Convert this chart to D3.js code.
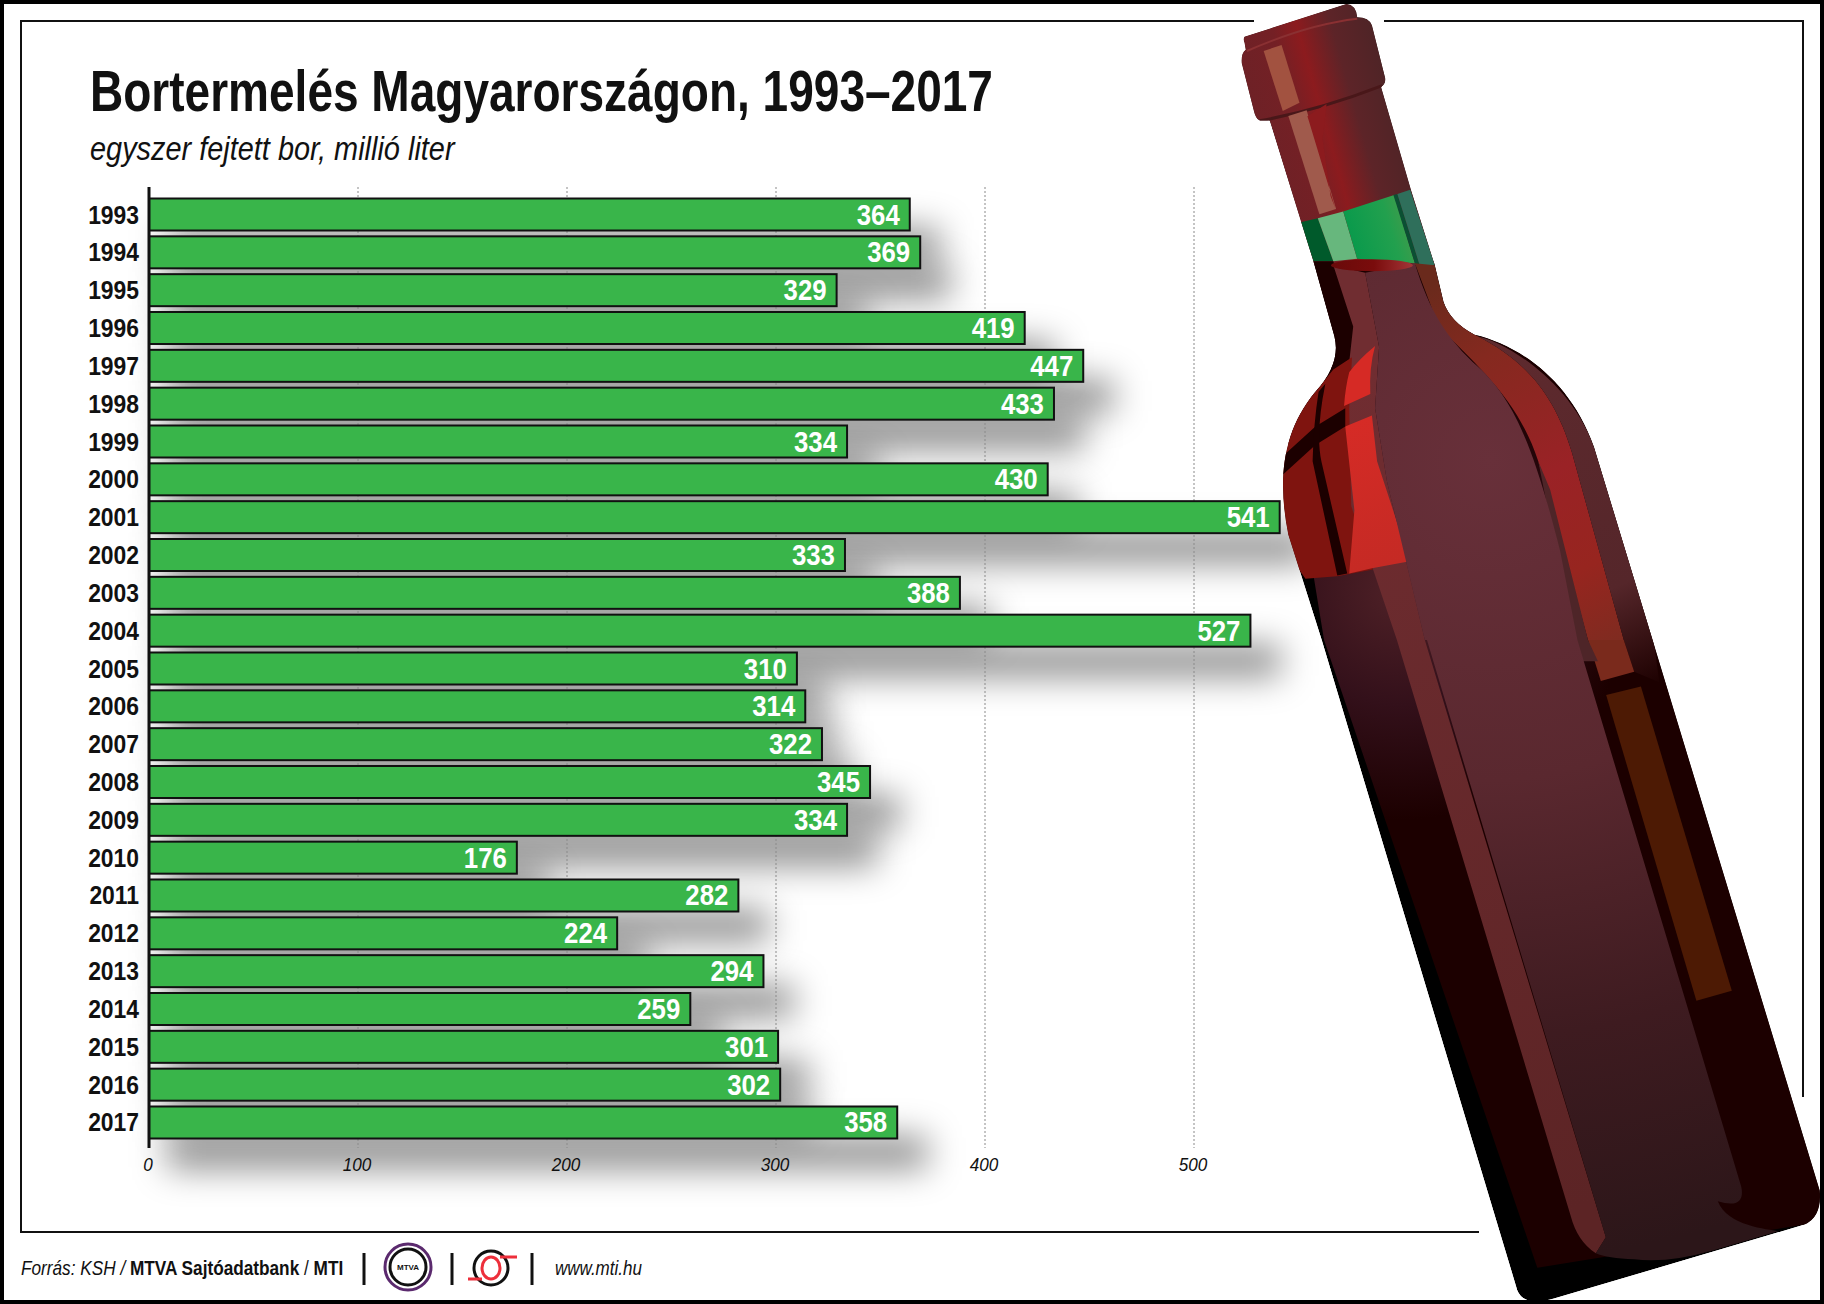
<!DOCTYPE html>
<html>
<head>
<meta charset="utf-8">
<script src="https://cdnjs.cloudflare.com/ajax/libs/d3/7.8.5/d3.min.js"></script>
<style>
  html, body { margin: 0; padding: 0; background: #fff; }
  svg { display: block; }
  text { font-family: "Liberation Sans", sans-serif; }
</style>
</head>
<body>
<svg id="chart" width="1824" height="1304"></svg>
<script>
const years = [1993, 1994, 1995, 1996, 1997, 1998, 1999, 2000, 2001, 2002, 2003, 2004, 2005,
               2006, 2007, 2008, 2009, 2010, 2011, 2012, 2013, 2014, 2015, 2016, 2017];
const production = [364, 369, 329, 419, 447, 433, 334, 430, 541, 333, 388, 527, 310,
                    314, 322, 345, 334, 176, 282, 224, 294, 259, 301, 302, 358];
const xTicks = [0, 100, 200, 300, 400, 500];

const svg = d3.select("#chart");
const defs = svg.append("defs");

// scales
const x = d3.scaleLinear().domain([0, 500]).range([149, 1194]);
const y = d3.scaleBand().domain(years).range([198.5, 1138.5]).paddingInner(0.154).paddingOuter(0);

// condensed look: the narrow font is not there, so squeeze the text
const squeeze = (px, py, sx) => `translate(${px},${py}) scale(${sx},1)`;

defs.append("filter").attr("id", "blur")
  .attr("filterUnits", "userSpaceOnUse")
  .attr("x", 100).attr("y", 120).attr("width", 1400).attr("height", 1150)
  .append("feGaussianBlur").attr("stdDeviation", 17);

// frame
const frame = svg.append("g").attr("fill", "none").attr("stroke", "#111").attr("stroke-width", 2);
frame.append("path").attr("d", "M1254,21H21V1232H1479");
frame.append("path").attr("d", "M1384,21H1803V1097");

// shadows
svg.append("g").selectAll("rect").data(production).join("rect")
  .attr("x", 167)
  .attr("y", (d, i) => y(years[i]) + 30)
  .attr("width", d => x(d) + 30 - 167)
  .attr("height", y.bandwidth())
  .attr("fill", "#000").attr("fill-opacity", 0.45)
  .attr("filter", "url(#blur)");

// grid
svg.append("g").selectAll("line").data(xTicks.slice(1)).join("line")
  .attr("x1", d => x(d)).attr("x2", d => x(d))
  .attr("y1", 187).attr("y2", 1148)
  .attr("stroke", "#8a8a8a").attr("stroke-width", 1).attr("stroke-dasharray", "2 2");

// bars
svg.append("g").selectAll("rect").data(production).join("rect")
  .attr("x", x(0))
  .attr("y", (d, i) => y(years[i]))
  .attr("width", d => x(d) - x(0))
  .attr("height", y.bandwidth())
  .attr("fill", "#39b54a").attr("stroke", "#111").attr("stroke-width", 2);

// value labels
svg.append("g").selectAll("text").data(production).join("text")
  .attr("transform", (d, i) => squeeze(x(d) - 10, y(years[i]) + y.bandwidth() / 2 + 10, 0.86))
  .attr("text-anchor", "end").attr("font-size", 30).attr("font-weight", 700)
  .attr("fill", "#fff")
  .text(d => d);

// year labels
svg.append("g").selectAll("text").data(years).join("text")
  .attr("transform", d => squeeze(139, y(d) + y.bandwidth() / 2 + 9, 0.88))
  .attr("text-anchor", "end").attr("font-size", 26).attr("font-weight", 700)
  .attr("fill", "#111")
  .text(d => d);

// axis line
svg.append("line").attr("x1", 149).attr("x2", 149).attr("y1", 187).attr("y2", 1148)
  .attr("stroke", "#111").attr("stroke-width", 3);

// tick labels
svg.append("g").selectAll("text").data(xTicks).join("text")
  .attr("transform", d => squeeze(x(d) - 1, 1170.5, 0.9))
  .attr("text-anchor", "middle").attr("font-size", 19).attr("font-style", "italic")
  .attr("fill", "#111")
  .text(d => d);

// titles
svg.append("text").attr("transform", squeeze(90, 111, 0.8075))
  .attr("font-size", 57).attr("font-weight", 700).attr("fill", "#111")
  .text("Bortermelés Magyarországon, 1993–2017");
svg.append("text").attr("transform", squeeze(90, 160, 0.85))
  .attr("font-size", 34).attr("font-style", "italic").attr("fill", "#111")
  .text("egyszer fejtett bor, millió liter");

// footer
const foot = svg.append("text").attr("transform", squeeze(21, 1275, 0.82)).attr("font-size", 21).attr("fill", "#111");
foot.append("tspan").attr("font-style", "italic").text("Forrás: KSH / ");
foot.append("tspan").attr("font-weight", 700).text("MTVA Sajtóadatbank");
foot.append("tspan").text(" / ");
foot.append("tspan").attr("font-weight", 700).text("MTI");
svg.append("text").attr("transform", squeeze(555, 1275, 0.81)).attr("font-size", 21).attr("font-style", "italic")
  .attr("fill", "#111").text("www.mti.hu");

svg.append("g").selectAll("line").data([364, 452, 532]).join("line")
  .attr("x1", d => d).attr("x2", d => d).attr("y1", 1253).attr("y2", 1285)
  .attr("stroke", "#111").attr("stroke-width", 3);

// MTVA logo
const mtva = svg.append("g").attr("transform", "translate(408,1267)").attr("fill", "none");
mtva.append("circle").attr("r", 23).attr("stroke", "#5b2a6e").attr("stroke-width", 3);
mtva.append("circle").attr("r", 18).attr("stroke", "#111").attr("stroke-width", 3);
mtva.append("text").attr("y", 3).attr("text-anchor", "middle").attr("font-size", 8)
  .attr("font-weight", 700).attr("fill", "#111").text("MTVA");

// MTI logo
const mti = svg.append("g").attr("transform", "translate(491,1268)").attr("fill", "none");
mti.append("circle").attr("r", 17).attr("stroke", "#111").attr("stroke-width", 3);
mti.append("ellipse").attr("rx", 9).attr("ry", 11).attr("stroke", "#ed2f3b").attr("stroke-width", 3);
mti.append("path").attr("d", "M9,-11H26M-9,11H-23").attr("stroke", "#ed2f3b").attr("stroke-width", 3);

// bottle: points
const a = (px, py) => [1200 + px / 2.513, py / 2.45];
const b = (px, py) => [1300 + px / 2.992, 640 + py / 2.361];

function grad(id, stops, x1, y1, x2, y2) {
  const g = defs.append("linearGradient").attr("id", id).attr("gradientUnits", "userSpaceOnUse")
    .attr("x1", x1).attr("y1", y1).attr("x2", x2).attr("y2", y2);
  stops.forEach(s => g.append("stop").attr("offset", s[0]).attr("stop-color", s[1]));
  return `url(#${id})`;
}

function radial(id, stops, cx, cy, r) {
  const g = defs.append("radialGradient").attr("id", id).attr("gradientUnits", "userSpaceOnUse")
    .attr("cx", cx).attr("cy", cy).attr("r", r);
  stops.forEach(s => g.append("stop").attr("offset", s[0]).attr("stop-color", s[1]));
  return `url(#${id})`;
}

const outline = `M${a(112, 90)}L${a(368, 10)}Q${a(392, 12)} ${a(395, 42)}Q${a(425, 42)} ${a(432, 62)}
  L${a(465, 190)}Q${a(468, 205)} ${a(455, 213)}L${a(530, 465)}L${a(590, 650)}L${a(612, 740)}
  Q${a(630, 790)} ${a(690, 820)}C${a(800, 845)} ${a(930, 930)} ${a(990, 1095)}
  L${b(1555, 1300)}Q${b(1562, 1362)} ${b(1510, 1380)}L${b(760, 1555)}Q${b(670, 1575)} ${b(650, 1535)}
  L${b(65, 0)}L${a(222, 1310)}C${a(195, 1180)} ${a(205, 1060)} ${a(290, 960)}
  Q${a(355, 890)} ${a(338, 825)}L${a(285, 640)}L${a(175, 295)}L${a(150, 295)}
  Q${a(140, 292)} ${a(135, 270)}L${a(105, 155)}Q${a(103, 130)} ${a(115, 122)}L${a(112, 105)}Q${a(108, 95)} ${a(112, 90)}Z`;

defs.append("clipPath").attr("id", "bottle-clip").append("path").attr("d", outline);
const inner = svg.append("g").attr("clip-path", "url(#bottle-clip)");

const shape = (d, fill) => inner.append("path").attr("d", d).attr("fill", fill);
const poly = (pts, fill) => shape("M" + pts.join("L") + "Z", fill);

// black rim, then the dark lower body
shape(outline, "#000");
poly([a(285, 640), a(590, 640), a(800, 800), a(1300, 1000), b(1600, 1300), b(1600, 1400), b(1510, 1380), b(710, 1482), b(72, 0), a(250, 1200), a(200, 1000)],
  radial("lowg", [[0, "#4f2127"], [0.5, "#33101a"], [1, "#1c0000"]], 1400, 590, 230));

// cap and neck
poly([a(90, 160), a(100, 90), a(380, 0), a(500, 50), a(600, 650), a(285, 650), a(175, 295), a(130, 295)],
  grad("neckg", [[0, "#6e2126"], [0.28, "#742025"], [0.45, "#8c1b1e"], [0.68, "#5d2428"], [1, "#4c2426"]], 1250, 100, 1390, 60));
inner.append("path").attr("d", `M${a(118, 125)}Q${a(270, 60)} ${a(395, 46)}`)
  .attr("fill", "none").attr("stroke", "#8a3032").attr("stroke-width", 2);
inner.append("path").attr("d", `M${a(150, 296)}Q${a(300, 270)} ${a(458, 210)}`)
  .attr("fill", "none").attr("stroke", "#491719").attr("stroke-width", 3);

// highlights on cap and neck
poly([a(160, 125), a(205, 110), a(250, 252), a(208, 272)], "#a25240");
poly([a(222, 284), a(268, 270), a(342, 512), a(300, 525)], "#a05a4c");
poly([a(270, 285), a(318, 255), a(308, 340), a(328, 480), a(340, 510)], "#8c1b1e");

// green band
poly([a(250, 545), a(296, 535), a(335, 640), a(285, 640)], "#005a2b");
poly([a(296, 535), a(360, 518), a(395, 634), a(335, 640)], "#67b77d");
poly([a(360, 518), a(488, 478), a(540, 645), a(395, 634)],
  grad("greeng", [[0, "#0a9a4c"], [0.6, "#22a04e"], [1, "#4a9a4a"]], 1345, 220, 1410, 200));
poly([a(486, 478), a(496, 475), a(552, 650), a(540, 645)], "#0b4f33");
poly([a(496, 475), a(528, 465), a(590, 650), a(552, 650)], "#2f6f5b");

// wine in the neck, left side
poly([a(285, 640), a(335, 640), a(385, 800), a(382, 880), a(335, 905), a(300, 900), a(338, 825)], "#1c0000");

// strip left of the middle panel
shape(`M${a(335, 650)}L${a(415, 668)}L${a(450, 850)}L${a(440, 1000)}L${a(470, 1180)}L${a(565, 1568)}
  L${b(915, 1410)}L${b(885, 1448)}Q${b(830, 1420)} ${b(810, 1360)}L${b(290, 0)}L${a(435, 1395)}L${a(375, 1240)}L${a(362, 1000)}L${a(385, 800)}Z`,
  grad("stripeg", [[0, "#702d31"], [1, "#5c2425"]], 1300, 400, 1600, 1200));

// red light on the left of the shoulder
poly([a(335, 905), a(382, 875), a(375, 1000), a(380, 1240), a(435, 1395), a(345, 1412), a(265, 1418), a(180, 1300), a(180, 1000), a(290, 960)], "#7f140f");
shape(`M${a(375, 912)}Q${a(400, 880)} ${a(440, 848)}Q${a(425, 900)} ${a(428, 965)}L${a(362, 995)}Q${a(365, 950)} ${a(375, 912)}Z`, "#d62a25");
poly([a(365, 1045), a(432, 1018), a(445, 1130), a(527, 1375), a(432, 1392), a(375, 1405), a(388, 1250)],
  grad("redg2", [[0, "#d72b26"], [1, "#c42a24"]], 1345, 410, 1400, 570));
poly([a(200, 1125), a(290, 1045), a(365, 1000), a(365, 1045), a(290, 1090), a(200, 1170)], "#1c0000");
shape(`M${a(298, 960)}L${a(315, 940)}Q${a(290, 1060)} ${a(305, 1130)}L${a(370, 1405)}L${a(345, 1410)}L${a(283, 1130)}Q${a(285, 1040)} ${a(298, 960)}Z`, "#1c0000");

// right shoulder strips: orange-red, then the dull edge
shape(`M${a(540, 645)}L${a(590, 650)}L${a(612, 740)}Q${a(630, 790)} ${a(700, 825)}C${a(810, 880)} ${a(890, 960)} ${a(935, 1110)}
  L${a(1065, 1568)}L${a(975, 1568)}L${a(900, 1300)}L${a(850, 1130)}C${a(800, 980)} ${a(700, 900)} ${a(600, 800)}Z`,
  grad("redg", [[0, "#6a2a1c"], [0.22, "#85291f"], [0.55, "#9a2226"], [0.8, "#97251f"], [1, "#7f2b20"]], 1440, 280, 1620, 640));
shape(`M${a(700, 825)}C${a(760, 835)} ${a(930, 930)} ${a(990, 1095)}L${a(1140, 1568)}L${b(1075, 100)}L${b(1000, 75)}L${a(1065, 1568)}L${a(935, 1110)}C${a(890, 960)} ${a(810, 880)} ${a(700, 825)}Z`,
  grad("edgeg", [[0, "#5e2a2e"], [0.72, "#55262a"], [1, "#1c0000"]], 1490, 340, 1650, 690));
poly([a(975, 1568), a(1065, 1568), b(1000, 75), b(900, 97)], "#7a2a1c");
poly([a(850, 1130), a(880, 1200), a(975, 1568), a(1000, 1620), a(950, 1620)], "#4e2528");

// lower label strip
poly([b(916, 130), b(1020, 110), b(1292, 828), b(1186, 852)], "#4d1a04");

// middle panel
shape(`M${a(415, 668)}L${a(540, 645)}C${a(575, 760)} ${a(620, 830)} ${a(700, 900)}C${a(790, 980)} ${a(840, 1100)} ${a(905, 1350)}
  L${b(830, 0)}L${b(1320, 1290)}Q${b(1335, 1345)} ${b(1250, 1325)}C${b(1280, 1385)} ${b(1400, 1390)} ${b(1430, 1396)}
  L${b(1240, 1440)}Q${b(1100, 1472)} ${b(1000, 1462)}Q${b(920, 1460)} ${b(885, 1448)}L${b(915, 1410)}L${b(380, 0)}
  L${a(565, 1568)}L${a(470, 1180)}L${a(440, 1000)}L${a(450, 850)}Z`,
  radial("panelg", [[0, "#68303a"], [0.4, "#5a282f"], [0.72, "#3e1b20"], [1, "#2c1619"]], 1490, 460, 800));

// wine surface
inner.append("ellipse").attr("cx", a(432, 650)[0]).attr("cy", a(432, 650)[1]).attr("rx", 41).attr("ry", 6)
  .attr("fill", grad("wineg", [[0, "#6a0a0a"], [0.5, "#7a0c0c"], [1, "#a5383a"]], 1333, 265, 1415, 265));

// outer border
svg.append("rect").attr("x", 2).attr("y", 2).attr("width", 1820).attr("height", 1300)
  .attr("fill", "none").attr("stroke", "#000").attr("stroke-width", 4);
</script>
</body>
</html>
